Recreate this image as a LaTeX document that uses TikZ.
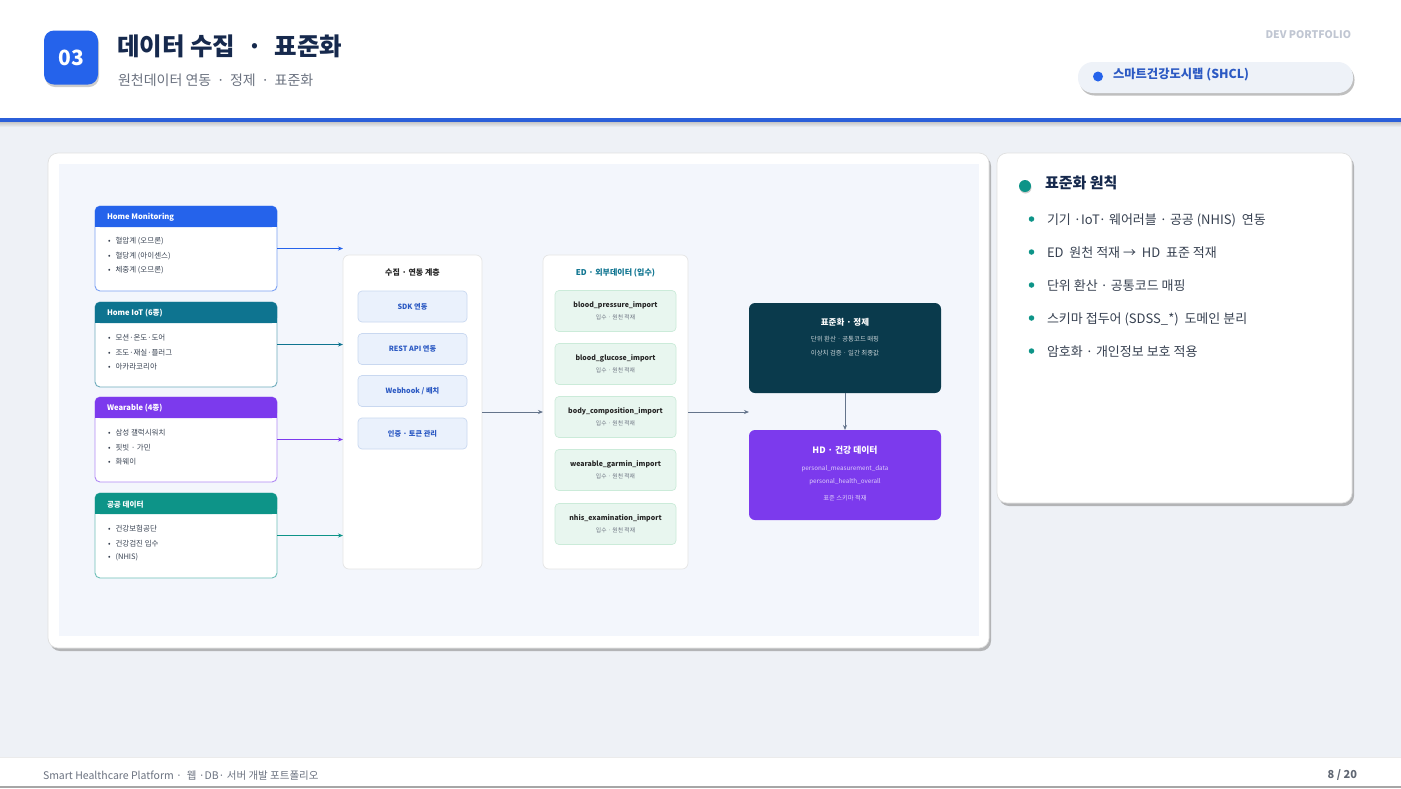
\documentclass[tikz,border=0pt]{standalone}
\usepackage{fontspec}
\setmainfont{Noto Sans CJK KR}
\usetikzlibrary{shadows,arrows.meta}
\definecolor{bgc}{RGB}{238,241,246}
\definecolor{panelbg}{RGB}{243,246,252}
\definecolor{navy}{RGB}{22,41,77}
\definecolor{cblue}{RGB}{37,99,235}
\definecolor{hblue}{RGB}{43,95,217}
\definecolor{cteal}{RGB}{14,116,144}
\definecolor{cpurple}{RGB}{124,58,237}
\definecolor{cgreen}{RGB}{13,148,136}
\definecolor{txtdark}{RGB}{55,65,81}
\definecolor{txtgray}{RGB}{107,114,128}
\definecolor{lightgray}{RGB}{192,198,210}
\definecolor{colfill}{RGB}{234,241,252}
\definecolor{colline}{RGB}{201,216,240}
\definecolor{coltext}{RGB}{43,89,195}
\definecolor{edfill}{RGB}{232,246,239}
\definecolor{edline}{RGB}{203,235,217}
\definecolor{stdfill}{RGB}{10,58,76}
\definecolor{arrgray}{RGB}{100,116,139}
\definecolor{pillfill}{RGB}{238,242,248}
\newcommand\fsz[1]{\fontsize{#1}{#1}\selectfont}
\newcommand\srcbox[6]{%
  \node[srcb, draw=#2!60!white, anchor=north west] (#1) at (95,#3) {};
  \fill[#2, rounded corners=5pt] (95,#3) rectangle (277,{#3+21});
  \fill[#2] (95,{#3+10}) rectangle (277,{#3+21});
  \node[anchor=west, text=white, font=\fsz{7.6}\bfseries] (#1-t) at (107,{#3+11.5}) {#4};
  \node[itm] (#1-a) at (108,{#3+35.5}) {\textbullet\hspace{5pt}#5};
  \node[itm] (#1-b) at (108,{#3+50.5}) {\textbullet\hspace{5pt}#6};
}
\begin{document}
\begin{tikzpicture}[x=1pt,y=-1pt,
  every node/.style={inner sep=0pt, outer sep=0pt},
  srcb/.style={fill=white, rounded corners=5pt, line width=0.9pt, minimum width=182pt, minimum height=85pt},
  itm/.style={anchor=west, text=txtdark, font=\fsz{7.5}},
  panelbox/.style={fill=white, draw=black!10, rounded corners=6pt, line width=0.7pt, anchor=north west},
  colbox/.style={fill=colfill, draw=colline, rounded corners=4pt, line width=0.7pt, minimum width=109pt, minimum height=31pt, text=coltext, font=\fsz{7.2}\bfseries},
  edbox/.style={fill=edfill, draw=edline, rounded corners=4pt, line width=0.7pt, minimum width=121pt, minimum height=41pt, align=center, text=black!85, font=\fontsize{7}{12}\selectfont\bfseries},
  bigbox/.style={rounded corners=6pt, minimum width=192pt, minimum height=90pt, anchor=north west},
  arr/.style={line width=0.8pt, -{Stealth[length=5pt,width=4pt]}},
  rbul/.style={fill=cgreen, circle, minimum size=5.5pt},
  ritem/.style={anchor=west, text=txtdark, font=\fsz{13}}
]
\fill[bgc] (0,0) rectangle (1401,788);
\useasboundingbox (0,0) rectangle (1401,788);

% header
\shade[top color=black!25, bottom color=bgc] (0,121) rectangle (1401,127);
\fill[white] (0,0) rectangle (1401,118);
\fill[hblue] (0,118) rectangle (1401,121.5);
\node[fill=cblue, rounded corners=10pt, minimum width=54pt, minimum height=54pt, text=white, font=\fsz{21}\bfseries, drop shadow={shadow xshift=1pt, shadow yshift=-2.5pt, fill=black, opacity=0.2}] (badge) at (71,57.5) {03};
\node[anchor=west, text=navy, font=\fsz{24.5}\bfseries] (title) at (117,46) {데이터 수집\enspace·\enspace 표준화};
\node[anchor=west, text=txtgray, font=\fsz{14}] (subtitle) at (118,80) {원천데이터 연동 \,·\, 정제 \,·\, 표준화};
\node[anchor=east, text=lightgray, font=\fsz{10.5}\bfseries] (dev) at (1351,35) {DEV PORTFOLIO};
\node[fill=pillfill, rounded corners=15pt, minimum width=275pt, minimum height=31pt, anchor=north west, drop shadow={shadow xshift=1.5pt, shadow yshift=-2.5pt, fill=black, opacity=0.25}] (pill) at (1078,62) {};
\node[fill=cblue, circle, minimum size=10pt] (pilldot) at (1098,76.5) {};
\node[anchor=west, text=coltext, font=\fsz{12.3}\bfseries] (pilltext) at (1113,75) {스마트건강도시랩 (SHCL)};

% main card
\node[fill=white, draw=black!12, line width=0.7pt, rounded corners=10pt, minimum width=941pt, minimum height=495pt, anchor=north west, drop shadow={shadow xshift=2pt, shadow yshift=-3pt, fill=black!45, opacity=0.6}] (card) at (48,153) {};
\fill[panelbg] (59,164) rectangle (979,636);

% source boxes
\srcbox{hm}{cblue}{206}{Home Monitoring}{혈압계 (오므론)}{혈당계 (아이센스)}
\node[itm] (hm-c) at (108,270.5) {\textbullet\hspace{5pt}체중계 (오므론)};
\srcbox{iot}{cteal}{302}{Home IoT (6종)}{모션·온도·도어}{조도·재실·플러그}
\node[itm] (iot-c) at (108,366.5) {\textbullet\hspace{5pt}아카라코리아};
\srcbox{wr}{cpurple}{397}{Wearable (4종)}{삼성 갤럭시워치}{핏빗 · 가민}
\node[itm] (wr-c) at (108,461.5) {\textbullet\hspace{5pt}화웨이};
\srcbox{pub}{cgreen}{493}{공공 데이터}{건강보험공단}{건강검진 입수}
\node[itm] (pub-c) at (108,557.5) {\textbullet\hspace{5pt}(NHIS)};

% collection layer
\node[panelbox, minimum width=139pt, minimum height=314pt] (col) at (343,255) {};
\node[text=black!85, font=\fsz{8}\bfseries] (colt) at (412.5,273) {수집 · 연동 계층};
\node[colbox] (sdk) at (412.5,306.5) {SDK 연동};
\node[colbox] (rest) at (412.5,349) {REST API 연동};
\node[colbox] (hook) at (412.5,391) {Webhook / 배치};
\node[colbox] (auth) at (412.5,433.5) {인증 · 토큰 관리};

% ED layer
\node[panelbox, minimum width=145pt, minimum height=314pt] (ed) at (543,255) {};
\node[text=cteal, font=\fsz{8}\bfseries] (edt) at (615.5,273) {ED · 외부데이터 (입수)};
\node[edbox] (e1) at (615.5,311) {blood\_pressure\_import\\{\fsz{5.8}\mdseries\color{txtgray}입수 · 원천 적재}};
\node[edbox] (e2) at (615.5,364) {blood\_glucose\_import\\{\fsz{5.8}\mdseries\color{txtgray}입수 · 원천 적재}};
\node[edbox] (e3) at (615.5,417) {body\_composition\_import\\{\fsz{5.8}\mdseries\color{txtgray}입수 · 원천 적재}};
\node[edbox] (e4) at (615.5,470) {wearable\_garmin\_import\\{\fsz{5.8}\mdseries\color{txtgray}입수 · 원천 적재}};
\node[edbox] (e5) at (615.5,524) {nhis\_examination\_import\\{\fsz{5.8}\mdseries\color{txtgray}입수 · 원천 적재}};

% standardization and HD
\node[bigbox, fill=stdfill] (std) at (749,303) {};
\node[text=white, font=\fsz{8.5}\bfseries] (stdt) at (845,322.5) {표준화 · 정제};
\node[text=white!78!stdfill, font=\fsz{6.4}] (std1) at (845,339.5) {단위 환산 · 공통코드 매핑};
\node[text=white!78!stdfill, font=\fsz{6.4}] (std2) at (845,353) {이상치 검증 · 일간 최종값};

\node[bigbox, fill=cpurple] (hd) at (749,430) {};
\node[text=white, font=\fsz{8.8}\bfseries] (hdt) at (845,450.5) {HD · 건강 데이터};
\node[text=white!75!cpurple, font=\fsz{6.3}] (hd1) at (845,468.5) {personal\_measurement\_data};
\node[text=white!75!cpurple, font=\fsz{6.3}] (hd2) at (845,481.5) {personal\_health\_overall};
\node[text=white!75!cpurple, font=\fsz{6.3}] (hd3) at (845,498.5) {표준 스키마 적재};

% connectors
\draw[arr, cblue] (hm.east) -- (hm.east -| col.west);
\draw[arr, cteal] (iot.east) -- (iot.east -| col.west);
\draw[arr, cpurple] (wr.east) -- (wr.east -| col.west);
\draw[arr, cgreen] (pub.east) -- (pub.east -| col.west);
\draw[arr, arrgray] (col.east) -- (ed.west);
\coordinate (stdin) at (ed.east -| std.west);
\draw[arr, arrgray] (ed.east) -- (stdin);
\draw[arr, arrgray] (std.south) -- (hd.north);

% right card
\node[fill=white, draw=black!12, line width=0.7pt, rounded corners=10pt, minimum width=355pt, minimum height=350pt, anchor=north west, drop shadow={shadow xshift=2pt, shadow yshift=-3pt, fill=black!45, opacity=0.6}] (rcard) at (997,153) {};
\node[fill=cgreen, circle, minimum size=12pt, drop shadow={shadow xshift=0.5pt, shadow yshift=-1.5pt, fill=black, opacity=0.2}] (rdot) at (1025,186) {};
\node[anchor=west, text=navy, font=\fsz{15}\bfseries] (rtitle) at (1045,183) {표준화 원칙};
\node[rbul] (b1) at (1031.5,219) {};
\node[ritem] (r1) at (1047,220) {기기 ·IoT· 웨어러블 · 공공 (NHIS)\ \ 연동};
\node[rbul] (b2) at (1031.5,252) {};
\node[ritem] (r2) at (1047,253) {ED\ \ 원천 적재 → \ HD\ \ 표준 적재};
\node[rbul] (b3) at (1031.5,285) {};
\node[ritem] (r3) at (1047,286) {단위 환산 · 공통코드 매핑};
\node[rbul] (b4) at (1031.5,318) {};
\node[ritem] (r4) at (1047,319) {스키마 접두어 (SDSS\_*)\ \ 도메인 분리};
\node[rbul] (b5) at (1031.5,351) {};
\node[ritem] (r5) at (1047,352) {암호화 · 개인정보 보호 적용};

% footer
\fill[white] (0,757) rectangle (1401,786);
\draw[black!8, line width=0.8pt] (0,757) -- (1401,757);
\fill[black!35] (0,786) rectangle (1401,788);
\node[anchor=west, text=txtgray, font=\fsz{10.5}] (foot) at (43,775.5) {Smart Healthcare Platform · \ 웹 ·DB· 서버 개발 포트폴리오};
\node[anchor=east, text=txtgray!90!black, font=\fsz{11}\bfseries] (page) at (1357,775.5) {8 / 20};
\end{tikzpicture}
\end{document}
